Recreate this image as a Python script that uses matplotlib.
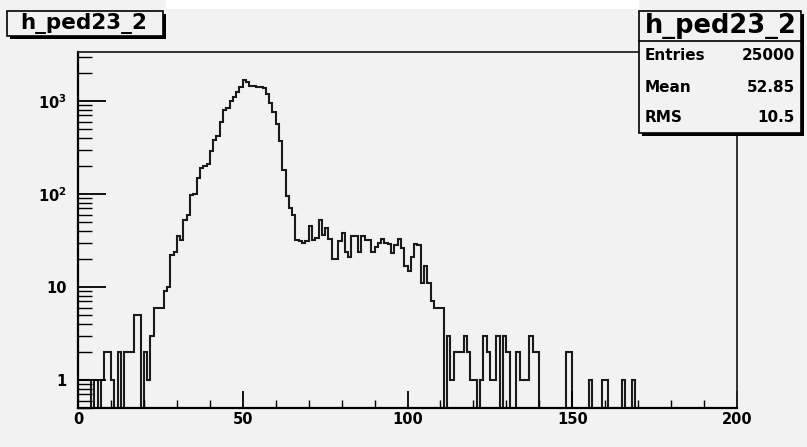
import numpy as np
import matplotlib
matplotlib.use("Agg")
import matplotlib.pyplot as plt
from matplotlib.patches import Rectangle
from matplotlib.ticker import FixedLocator, LogLocator, NullFormatter, MultipleLocator

plt.rcParams['font.family'] = ['DejaVu Sans']
plt.rcParams['font.weight'] = 'bold'
plt.rcParams['mathtext.fontset'] = 'custom'
plt.rcParams['mathtext.rm'] = 'DejaVu Sans:bold'
plt.rcParams['mathtext.bf'] = 'DejaVu Sans:bold'

# histogram h_ped23_2: 200 bins of width 1 from 0 to 200
bin_edges = np.arange(0, 201, 1)
counts = [
    1, 1, 1, 1, 0, 1, 0, 1, 2, 2,
    1, 0, 2, 0, 2, 2, 2, 5, 5, 0,
    2, 1, 3, 6, 6, 6, 9, 10, 22, 24,
    35, 32, 52, 60, 98, 100, 150, 190, 200, 210,
    290, 380, 420, 600, 800, 850, 1000, 1100, 1250, 1400,
    1700, 1600, 1450, 1450, 1420, 1400, 1380, 1180, 960, 760,
    570, 370, 180, 95, 70, 60, 32, 31, 30, 31,
    45, 32, 34, 53, 36, 43, 33, 20, 20, 31,
    38, 24, 21, 35, 35, 24, 35, 32, 32, 24,
    27, 30, 33, 30, 29, 23, 28, 33, 26, 17,
    15, 21, 29, 28, 11, 17, 11, 7, 6, 6,
    6, 0, 3, 1, 2, 2, 2, 3, 2, 1,
    1, 0, 1, 3, 2, 1, 1, 3, 0, 3,
    2, 0, 0, 2, 1, 1, 1, 3, 2, 2,
    0, 0, 0, 0, 0, 0, 0, 0, 2, 2,
    0, 0, 0, 0, 0, 1, 0, 0, 0, 1,
    1, 0, 0, 0, 0, 1, 0, 0, 1, 0,
    0, 0, 0, 0, 0, 0, 0, 0, 0, 0,
    0, 0, 0, 0, 0, 0, 0, 0, 0, 0,
    0, 0, 0, 0, 0, 0, 0, 0, 0, 0,
]
hist_name = "h_ped23_2"
stat_names = ["Entries", "Mean", "RMS"]
stat_values = ["25000", "52.85", "10.5"]
y_ticks = [1, 10, 100, 1000]
y_tick_labels = ["1", "10", r"$10^{2}$", r"$10^{3}$"]
x_ticks = [0, 50, 100, 150, 200]

W, H = 807, 447
bg = "#f2f2f2"


def fx(px):
    return px / W


def fy(py):
    return 1 - py / H


fig = plt.figure(figsize=(W / 100, H / 100), dpi=100, facecolor=bg)

# thin white strip along the top edge
fig.patches.append(Rectangle((fx(166), fy(9)), (639 - 166) / W, 9 / H,
                             transform=fig.transFigure, facecolor="white",
                             edgecolor="none", zorder=0))

ax = fig.add_axes([fx(78), fy(408), (737 - 78) / W, (408 - 52) / H])
ax.set_facecolor(bg)

# zero bins drop to the bottom of the frame, like ROOT does on log scale
draw_counts = np.where(np.array(counts) > 0, counts, 1e-3)
ax.stairs(draw_counts, bin_edges, baseline=1e-3, color="#1a1a1a", lw=1.5)

ax.set_yscale("log")
ax.set_xlim(0, 200)
ax.set_ylim(0.5, 3360)

ax.xaxis.set_major_locator(FixedLocator(x_ticks))
ax.xaxis.set_minor_locator(MultipleLocator(10))
ax.yaxis.set_major_locator(FixedLocator(y_ticks))
ax.set_yticklabels(y_tick_labels)
ax.yaxis.set_minor_locator(LogLocator(base=10, subs=np.arange(2, 10)))
ax.yaxis.set_minor_formatter(NullFormatter())

ax.tick_params(axis="x", which="major", direction="in", length=12, width=1.3,
               labelsize=10.5, pad=3, top=False)
ax.tick_params(axis="x", which="minor", direction="in", length=6, width=1.0,
               top=False)
ax.tick_params(axis="y", which="major", direction="in", length=20, width=1.3,
               labelsize=10.5, pad=8, right=False)
ax.tick_params(axis="y", which="minor", direction="in", length=10, width=1.0,
               right=False)
for lab in ax.get_xticklabels() + ax.get_yticklabels():
    lab.set_fontweight("bold")

for side in ["left", "bottom"]:
    ax.spines[side].set_linewidth(1.6)
    ax.spines[side].set_color("black")
for side in ["top", "right"]:
    ax.spines[side].set_linewidth(1.3)
    ax.spines[side].set_color("#222222")


def pave(x0, y0, x1, y1, shadow=3):
    fig.patches.append(Rectangle((fx(x0 + shadow), fy(y1 + shadow)),
                                 (x1 - x0) / W, (y1 - y0) / H,
                                 transform=fig.transFigure, facecolor="black",
                                 edgecolor="none", zorder=5))
    fig.patches.append(Rectangle((fx(x0), fy(y1)), (x1 - x0) / W, (y1 - y0) / H,
                                 transform=fig.transFigure, facecolor=bg,
                                 edgecolor="black", lw=1.2, zorder=6))


# title box
pave(7, 11, 163, 36)
fig.text(fx(84), fy(24), hist_name, ha="center", va="center",
         fontsize=15.5, fontweight="bold", zorder=7)

# stats box
pave(639, 11, 801, 133)
fig.add_artist(plt.Line2D([fx(639), fx(801)], [fy(41), fy(41)],
                          transform=fig.transFigure, color="black", lw=1.2,
                          zorder=7))
fig.text(fx(721), fy(26), hist_name, ha="center", va="center",
         fontsize=18.5, fontweight="bold", zorder=7)
row_y = [56, 87, 117]
for name, val, y in zip(stat_names, stat_values, row_y):
    fig.text(fx(645), fy(y), name, ha="left", va="center", fontsize=11,
             fontweight="bold", zorder=7)
    fig.text(fx(795), fy(y), val, ha="right", va="center", fontsize=11,
             fontweight="bold", zorder=7)

fig.savefig("out.png", dpi=100, facecolor=bg)
